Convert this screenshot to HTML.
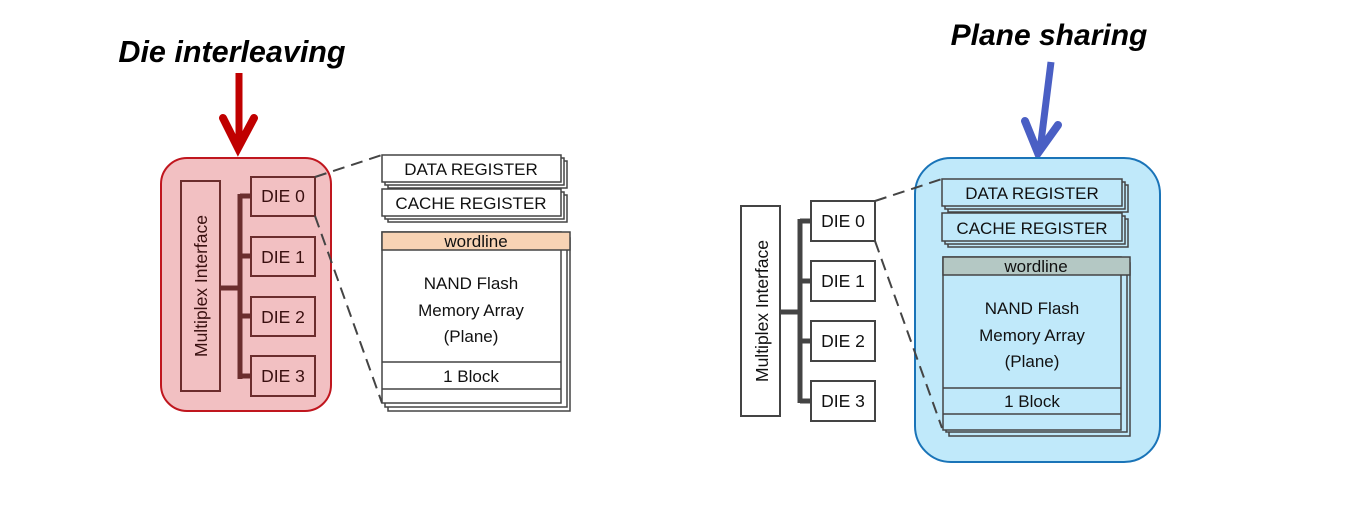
<!DOCTYPE html>
<html><head><meta charset="utf-8"><style>
html,body{margin:0;padding:0;background:#fff;}
svg{display:block;}
text{font-family:"Liberation Sans",sans-serif;}
.t{font-size:17px;fill:#111;text-anchor:middle;}
</style></head><body>
<svg width="1357" height="507" viewBox="0 0 1357 507" xmlns="http://www.w3.org/2000/svg">
<!-- LEFT -->
<text x="232" y="62" font-size="30.5" font-weight="bold" font-style="italic" text-anchor="middle" fill="#000">Die interleaving</text>
<line x1="239" y1="73" x2="239" y2="146" stroke="#c00000" stroke-width="7"/>
<polyline points="223,118 238,148 254,118" fill="none" stroke="#c00000" stroke-width="8" stroke-linecap="round" stroke-linejoin="miter"/>
<rect x="161" y="158" width="170" height="253" rx="26" fill="#f2c0c2" stroke="#c0161e" stroke-width="2"/>
<rect x="181" y="181" width="39" height="210" fill="none" stroke="#6b2d2d" stroke-width="2"/>
<text transform="translate(207,286) rotate(-90)" font-size="17.5" text-anchor="middle" fill="#3a1010">Multiplex Interface</text>
<g stroke="#6b2d2d" stroke-width="5" fill="none">
<line x1="240" y1="194" x2="240" y2="379"/>
<line x1="220" y1="288" x2="240" y2="288"/>
<line x1="240" y1="196" x2="251" y2="196"/>
<line x1="240" y1="256" x2="251" y2="256"/>
<line x1="240" y1="316" x2="251" y2="316"/>
<line x1="240" y1="376" x2="251" y2="376"/>
</g>
<g fill="none" stroke="#6b2d2d" stroke-width="2">
<rect x="251" y="177" width="64" height="39"/>
<rect x="251" y="237" width="64" height="39"/>
<rect x="251" y="297" width="64" height="39"/>
<rect x="251" y="356" width="64" height="40"/>
</g>
<g font-size="17.5" fill="#3a1010" text-anchor="middle">
<text x="283" y="202">DIE 0</text><text x="283" y="263">DIE 1</text><text x="283" y="323">DIE 2</text><text x="283" y="382">DIE 3</text>
</g>
<g stroke="#444" stroke-width="2" stroke-dasharray="12,7" fill="none">
<line x1="315" y1="177" x2="382" y2="155"/>
<line x1="315" y1="216" x2="382" y2="403"/>
</g>
<g fill="#fff" stroke="#444" stroke-width="1.5">
<rect x="388" y="161" width="179" height="27"/><rect x="385" y="158" width="179" height="27"/><rect x="382" y="155" width="179" height="27"/>
<rect x="388" y="195" width="179" height="27"/><rect x="385" y="192" width="179" height="27"/><rect x="382" y="189" width="179" height="27"/>
<rect x="388" y="238" width="182" height="173"/><rect x="385" y="235" width="182" height="172"/><rect x="382" y="232" width="179" height="171"/>
</g>
<rect x="382" y="232" width="188" height="18" fill="#f8d3b4" stroke="#444" stroke-width="1.5"/>
<line x1="382" y1="362" x2="561" y2="362" stroke="#444" stroke-width="1.5"/>
<line x1="382" y1="389" x2="561" y2="389" stroke="#444" stroke-width="1.5"/>
<text class="t" x="471" y="175">DATA REGISTER</text>
<text class="t" x="471" y="209">CACHE REGISTER</text>
<text class="t" x="476" y="247">wordline</text>
<text class="t" x="471" y="289">NAND Flash</text>
<text class="t" x="471" y="316">Memory Array</text>
<text class="t" x="471" y="342">(Plane)</text>
<text class="t" x="471" y="382">1 Block</text>

<!-- RIGHT -->
<text x="1049" y="45" font-size="30" font-weight="bold" font-style="italic" text-anchor="middle" fill="#000">Plane sharing</text>
<line x1="1051" y1="62" x2="1040" y2="150" stroke="#4a5fc4" stroke-width="7"/>
<polyline points="1025,121 1038,153 1058,125" fill="none" stroke="#4a5fc4" stroke-width="8" stroke-linecap="round"/>
<rect x="915" y="158" width="245" height="304" rx="36" fill="#c0e9fa" stroke="#1a74b8" stroke-width="2"/>
<rect x="741" y="206" width="39" height="210" fill="#fff" stroke="#444" stroke-width="2"/>
<text transform="translate(768,311) rotate(-90)" font-size="17.5" text-anchor="middle" fill="#111">Multiplex Interface</text>
<g stroke="#444" stroke-width="5" fill="none">
<line x1="800" y1="219" x2="800" y2="403"/>
<line x1="780" y1="312" x2="800" y2="312"/>
<line x1="800" y1="221" x2="811" y2="221"/>
<line x1="800" y1="281" x2="811" y2="281"/>
<line x1="800" y1="341" x2="811" y2="341"/>
<line x1="800" y1="401" x2="811" y2="401"/>
</g>
<g fill="#fff" stroke="#444" stroke-width="2">
<rect x="811" y="201" width="64" height="40"/>
<rect x="811" y="261" width="64" height="40"/>
<rect x="811" y="321" width="64" height="40"/>
<rect x="811" y="381" width="64" height="40"/>
</g>
<g font-size="17.5" fill="#111" text-anchor="middle">
<text x="843" y="227">DIE 0</text><text x="843" y="287">DIE 1</text><text x="843" y="347">DIE 2</text><text x="843" y="407">DIE 3</text>
</g>
<g stroke="#444" stroke-width="2" stroke-dasharray="12,7" fill="none">
<line x1="875" y1="201" x2="942" y2="179"/>
<line x1="875" y1="241" x2="942" y2="428"/>
</g>
<g fill="#c0e9fa" stroke="#444" stroke-width="1.5">
<rect x="948" y="185" width="180" height="27"/><rect x="945" y="182" width="180" height="27"/><rect x="942" y="179" width="180" height="27"/>
<rect x="948" y="219" width="180" height="28"/><rect x="945" y="216" width="180" height="28"/><rect x="942" y="213" width="180" height="28"/>
<rect x="949" y="263" width="181" height="173"/><rect x="946" y="260" width="181" height="172"/><rect x="943" y="257" width="178" height="173"/>
</g>
<rect x="943" y="257" width="187" height="18" fill="#b4c8c4" stroke="#444" stroke-width="1.5"/>
<line x1="943" y1="388" x2="1121" y2="388" stroke="#444" stroke-width="1.5"/>
<line x1="943" y1="414" x2="1121" y2="414" stroke="#444" stroke-width="1.5"/>
<text class="t" x="1032" y="199">DATA REGISTER</text>
<text class="t" x="1032" y="234">CACHE REGISTER</text>
<text class="t" x="1036" y="272">wordline</text>
<text class="t" x="1032" y="314">NAND Flash</text>
<text class="t" x="1032" y="341">Memory Array</text>
<text class="t" x="1032" y="367">(Plane)</text>
<text class="t" x="1032" y="407">1 Block</text>
</svg>
</body></html>
